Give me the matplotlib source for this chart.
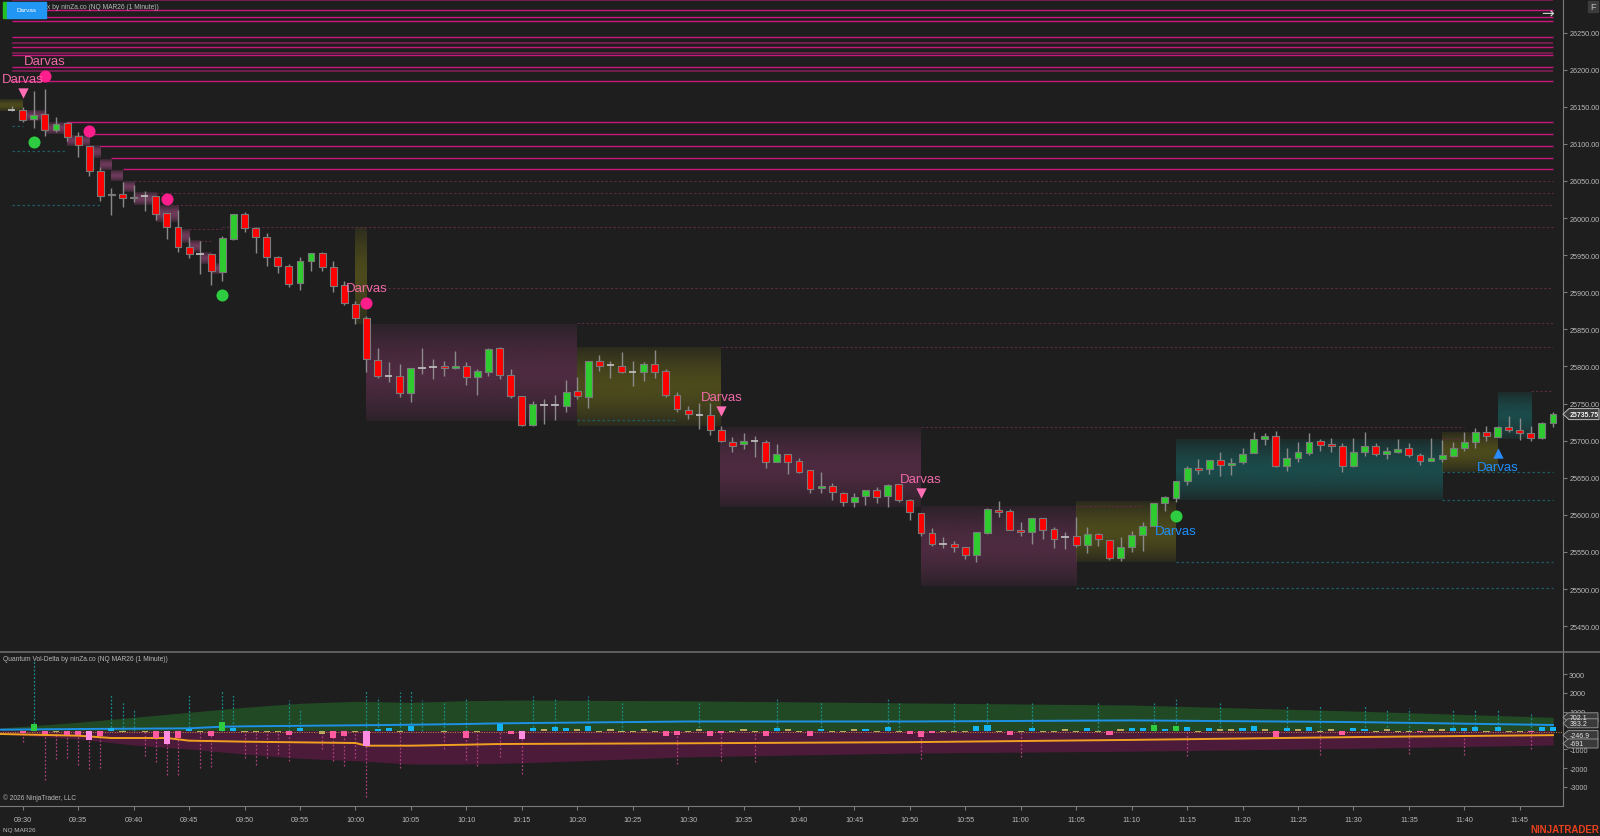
import numpy as np
import matplotlib
matplotlib.use("Agg")
import matplotlib.pyplot as plt
from matplotlib.colors import to_rgb
from matplotlib.patches import Rectangle, Polygon
from matplotlib.ticker import FuncFormatter

plt.rcParams["font.family"] = ["Liberation Sans", "DejaVu Sans"]
plt.rcParams["axes.unicode_minus"] = False

BG = "#1e1e1e"
GRID = "#7a7a7a"
TXT = "#b9b9b9"
WICK = "#8a8a8a"
UP = "#2ecc2e"
DN = "#ff0000"
PINK_TXT = "#f06aa8"
BLUE_TXT = "#1e90ff"

# ---- price bars, minute index 0 = 09:30 ----
bar_minute = list(range(-1, 139))
opens = [26146, 26145.5, 26133, 26140, 26119, 26127.5, 26110, 26097.5, 26063, 26031.5,
         26032.75, 26027, 26029.25, 26029.25, 26006.75, 25988.25, 25960.5, 25952, 25952, 25926.75,
         25972, 26005.5, 25986.5, 25974.75, 25947, 25935.75, 25912, 25941.75, 25952.5, 25933.5,
         25909.75, 25884, 25864.75, 25808.5, 25787.5, 25787.5, 25764.25, 25797.75, 25798.75, 25800,
         25797.5, 25801, 25785.25, 25793, 25824.5, 25788.75, 25759.75, 25721, 25748.5, 25748,
         25747, 25767.25, 25758.5, 25807.75, 25802, 25801, 25792, 25792, 25802.75, 25794.25,
         25762, 25741.25, 25735, 25735, 25714.25, 25698.5, 25695.5, 25699, 25697.75, 25670.75,
         25682, 25672, 25660.5, 25635.75, 25639.25, 25629.5, 25616.75, 25625, 25633.5, 25625,
         25641.5, 25620.25, 25602, 25575, 25560.25, 25560.25, 25556.25, 25545.75, 25575.5, 25607,
         25604.75, 25580, 25577.25, 25596, 25581, 25569.75, 25571, 25559.25, 25574, 25566.5,
         25542.25, 25557, 25573.25, 25584.5, 25616, 25622.75, 25645.25, 25662.75, 25661.75, 25674,
         25667, 25670.75, 25683, 25702.25, 25706.5, 25666.25, 25676.25, 25683.25, 25699, 25695,
         25692.25, 25665.5, 25684.25, 25692.25, 25682, 25685, 25689.5, 25680.5, 25673, 25675.25,
         25679.75, 25689.5, 25697.75, 25711.25, 25704.5, 25718, 25714.75, 25709.75, 25703, 25723.25]
highs = [26151, 26149.5, 26171.5, 26174, 26135.75, 26129, 26115.5, 26097.5, 26068.25, 26040.5,
         26049, 26044.5, 26036.5, 26029.25, 26006.75, 26011.25, 25974, 25968.5, 25952, 25976.25,
         26005.5, 26008.5, 25987.5, 25979.5, 25949.25, 25938, 25947, 25952.5, 25953.75, 25942.5,
         25915.5, 25888.25, 25868.25, 25824.5, 25805.5, 25803.25, 25797.5, 25824.75, 25810, 25807.75,
         25821.25, 25805.5, 25796.5, 25824.75, 25825.75, 25796.5, 25759.75, 25753.5, 25756, 25761.5,
         25781.75, 25786, 25807.25, 25815.5, 25807.25, 25819, 25807.25, 25806.25, 25822.5, 25796.5,
         25765, 25747, 25750.75, 25751.25, 25720, 25704.5, 25709.75, 25706.5, 25700.75, 25695.5,
         25682, 25676.25, 25660.5, 25657.25, 25643, 25630.25, 25629.5, 25633.5, 25637, 25641.5,
         25641.5, 25621, 25602, 25581.75, 25569.75, 25565, 25556.25, 25576.5, 25609.25, 25619,
         25607.75, 25590.75, 25595.25, 25596, 25583.25, 25576.5, 25596.5, 25583.25, 25575.5, 25566.5,
         25570.5, 25578.5, 25590, 25616, 25625.75, 25646, 25666.25, 25675.25, 25674, 25684.25,
         25676.25, 25689.5, 25712, 25710.25, 25713.25, 25689.5, 25697.75, 25710.25, 25702.25, 25703,
         25696.75, 25703, 25712, 25696.75, 25691, 25702.25, 25696.75, 25683.25, 25703, 25701.25,
         25697.75, 25712, 25716.5, 25719.25, 25720, 25732.75, 25730, 25720, 25725.5, 25739]
lows = [26144, 26130, 26121.25, 26110, 26116.25, 26104.25, 26082.5, 26057, 26022.5, 26004,
        26015.25, 26022, 26009.75, 25997.75, 25971.75, 25953.75, 25946.5, 25924.5, 25910, 25915,
        25970, 25980.75, 25952.5, 25935.75, 25926, 25906.5, 25903.5, 25929, 25929, 25900,
        25882.75, 25857.5, 25793, 25784, 25778.5, 25759.25, 25752.5, 25789.75, 25783, 25787.5,
        25796.5, 25775, 25761.5, 25787.5, 25783, 25757, 25719.25, 25720, 25722.75, 25728.25,
        25739, 25756, 25744.25, 25794.25, 25784, 25791, 25773.25, 25780.75, 25784.75, 25758.75,
        25738, 25728.5, 25715.75, 25707.5, 25697.75, 25684.25, 25688.75, 25677.5, 25662.75, 25670.75,
        25655, 25656.25, 25629.5, 25629.5, 25620.5, 25611.5, 25610, 25613.25, 25616, 25610,
        25616.75, 25593.5, 25571.75, 25558.25, 25555, 25550.25, 25540.5, 25536, 25574.25, 25596.5,
        25580, 25571.75, 25560.75, 25567.5, 25555, 25554, 25556.25, 25548.5, 25557.5, 25539.5,
        25538.25, 25549.5, 25551.5, 25584.5, 25605.5, 25616.75, 25640.5, 25655, 25655, 25652.75,
        25654, 25668.5, 25683, 25694, 25664, 25659.5, 25671.5, 25680.5, 25686.5, 25684.25,
        25657.25, 25664, 25678.75, 25678.75, 25675.25, 25683.25, 25677.5, 25667, 25673, 25671.5,
        25677.5, 25686.5, 25689.5, 25700, 25704.5, 25711.25, 25701.25, 25700, 25702.25, 25718]
closes = [26146, 26132, 26139.25, 26119, 26127, 26109.5, 26098, 26063, 26030, 26032,
          26026.5, 26028.25, 26029.25, 26005, 25987.5, 25960.5, 25951, 25952, 25928.25, 25972.75,
          26005.5, 25986, 25974.75, 25947, 25935.75, 25910.75, 25941.75, 25952.5, 25933.5, 25908.75,
          25885.5, 25864.75, 25810, 25787.5, 25787.5, 25764.5, 25797.5, 25797.75, 25798.75, 25797.5,
          25801, 25785.25, 25794.25, 25823, 25788.5, 25759.75, 25721, 25749, 25748.5, 25748,
          25766, 25759.75, 25807.25, 25801, 25802, 25792, 25792, 25802.75, 25793, 25762,
          25742.5, 25735.25, 25735, 25714.25, 25700, 25693, 25699.5, 25699, 25670.75, 25682,
          25670.75, 25657.25, 25634.75, 25639.25, 25630.25, 25616.75, 25623.5, 25633.5, 25623.5, 25640.5,
          25620, 25603.5, 25575, 25560.75, 25560.25, 25556.25, 25545.75, 25576.5, 25607.75, 25604.25,
          25580, 25576.5, 25595.25, 25580, 25567.5, 25569.75, 25559.25, 25574, 25567.5, 25542.25,
          25557, 25572.75, 25584.5, 25616, 25623.5, 25645.25, 25663.5, 25660.5, 25674, 25667,
          25669.75, 25682, 25702.25, 25705.75, 25665.5, 25677, 25684.25, 25698.5, 25694.5, 25693,
          25665.5, 25684.25, 25692.25, 25682, 25686.5, 25688.75, 25680.5, 25673, 25676.5, 25680.5,
          25689.5, 25697.75, 25712, 25705.75, 25718.75, 25714.75, 25709.75, 25703, 25723.25, 25735.75]
last_price = 25735.75

# ---- Darvas boxes (left edge, right edge in minutes; top, bottom price) ----
box_left = [-2.1, 30, 31, 50, 62.9, 81, 95, 104, 128, 133]
box_right = [0, 31, 50, 62.9, 81, 95, 104, 128, 133, 136]
box_top = [26160, 25987, 25857, 25826, 25718.75, 25611, 25618, 25701, 25711, 25765]
box_bottom = [26144.5, 25857, 25727, 25720, 25611, 25504.5, 25536, 25619.5, 25657.5, 25702]
box_kind = ["olive", "olive", "plum", "olive", "plum", "plum", "olive", "teal", "olive", "teal"]

# small trailing boxes while price was falling
step_left = [0, 2, 4, 6, 7, 8, 9, 10, 12, 14, 15, 16, 17]
step_right = [2, 4, 6, 7, 8, 9, 10, 12, 14, 15, 16, 17, 18]
step_top = [26144.5, 26129, 26111, 26097.5, 26079.5, 26063.75, 26049, 26034.5, 26017.5,
            25985, 25969.5, 25954, 25938]
step_bottom = [26131, 26113, 26097.5, 26080.5, 26065, 26049.5, 26034.5, 26017.5, 25995,
               25967, 25954, 25938, 25924.5]

# ---- horizontal levels ----
res_price = [26293.8, 26280, 26270.5, 26265, 26243.3, 26235.5, 26230, 26222, 26219.7,
             26203, 26198.5, 26184.2, 26129, 26112.8, 26097, 26080.5, 26065.6]
res_start = [-1, -1, -1, -1, -1, -1, -1, -1, -1, -1, -1, -1, 4, 6, 7, 8, 9]
res_dark = [0, 5, 7, 10]
old_price = [26049.5, 26033.3, 26017.1, 25988.3, 25985.2, 25968.6, 25905.2, 25858.1,
             25826.6, 25766.4, 25718.5, 25611.4, 25702]
old_start = [10, 12, 13, 18, 15, 16, 31, 50, 63, 136, 81, 95, 128]
old_end = [138, 138, 138, 138, 18, 17, 138, 138, 138, 138, 130, 101, 129.7]
sup_price = [26124.4, 26090.7, 26017.5, 25658, 25620, 25536.4, 25501.8, 25728]
sup_start = [-1, -1, -1, 128, 128, 104, 95, 50]
sup_end = [0, 4, 7, 138, 138, 138, 138, 59]

# ---- signals ----
sig_dn_min = [0, 63, 81]
sig_dn_price = [26168, 25739.5, 25629]
lbl_pink_min = [0, 2, 31, 63, 81]
lbl_pink_price = [26188, 26211, 25906, 25758.5, 25648]
dot_pink_min = [2, 6, 13, 31]
dot_pink_price = [26191, 26117.7, 26025.2, 25885.5]
dot_green_min = [1, 18, 104]
dot_green_price = [26102.8, 25896.2, 25598]
sig_up_min = [133]
sig_up_price = [25684]
lbl_blue_min = [104, 133]
lbl_blue_price = [25578, 25665]

# ---- Vol-Delta panel ----
env_min = [-2, 5, 10, 15, 20, 25, 30, 35, 40, 45, 60, 80, 100, 120, 138]
env_high = [133, 436, 700, 968, 1234, 1447, 1553, 1500, 1590, 1620, 1580, 1467, 1355, 1037, 702]
env_low = [-186, -452, -771, -984, -1250, -1480, -1605, -1782, -1782, -1720, -1400, -1200,
           -1100, -950, -771]
buy_min = [-2, 5, 15, 18, 20, 33, 40, 43, 60, 80, 100, 120, 138]
buy_avg = [44, 80, 115, 204, 222, 293, 346, 381, 480, 480, 537, 450, 293]
sell_min = [-2, 5, 8, 13, 15, 20, 30, 31, 35, 40, 43, 60, 80, 100, 120, 138]
sell_avg = [-186, -275, -399, -399, -541, -594, -665, -807, -807, -754, -718, -680, -620,
            -500, -350, -247]
spike_up_min = [1, 8, 9, 10, 15, 18, 19, 24, 25, 31, 32, 34, 35, 36, 38, 40, 46, 48, 51, 54,
                61, 68, 72, 78, 79, 84, 87, 91, 97, 102, 104, 108, 114, 117, 121, 123, 125,
                129, 131, 133, 136]
spike_up_val = [3714, 1888, 1590, 1090, 1940, 2154, 1940, 1620, 1090, 2154, 1760, 2050, 2154,
                1620, 1500, 1680, 1835, 1675, 1835, 1570, 1570, 1730, 1570, 1730, 1460, 1460,
                1570, 1460, 1460, 1460, 1680, 1460, 1350, 1300, 1350, 1080, 1190, 1135, 1080,
                1135, 925]
spike_dn_min = [0, 2, 3, 4, 5, 6, 7, 11, 12, 13, 14, 16, 17, 20, 21, 22, 23, 24, 27, 28, 29,
                30, 31, 34, 38, 40, 41, 43, 45, 59, 63, 66, 81, 90, 105, 117, 125, 130, 136]
spike_dn_val = [-630, -2615, -1520, -1480, -1835, -2050, -2000, -1340, -1655, -2350, -2350,
                -2000, -1920, -1465, -1835, -1465, -1250, -1600, -985, -1640, -1900, -1465,
                -3520, -2015, -985, -1550, -1900, -1430, -2340, -1780, -1620, -1675, -1515,
                -1400, -1355, -1300, -1250, -1300, -1000]
delta_min = [0, 1, 2, 3, 4, 5, 6, 7, 8, 9, 11, 12, 13, 14, 15, 16, 17, 18, 19, 20, 21, 22, 23,
             24, 25, 27, 28, 29, 30, 31, 32, 33, 34, 35, 38, 40, 41, 43, 44,
             45, 46, 47, 48, 49, 50, 51, 52, 53, 54, 55, 56, 57, 58, 59, 60, 61, 62, 63, 64,
             65, 66, 67, 68, 69, 70, 71, 72, 73, 74, 75, 76, 77, 78, 79, 80, 81, 82, 83, 84,
             85, 86, 87, 88, 89, 90, 91, 92, 93, 94, 95, 96, 97, 98, 99, 100, 101, 102, 103,
             104, 105, 106, 107, 108, 109, 110, 111, 112, 113, 114, 115, 116, 117, 118, 119,
             120, 121, 122, 123, 124, 125, 126, 127, 128, 129, 130, 131, 132, 133, 134, 135,
             136, 137, 138]
delta_val = [-150, 355, -200, -60, -250, -250, -500, -300, 130, -60, -60, -400, -700, -380,
             60, -80, -300, 460, 150, -60, -60, -60, -60, -220, 150, -200, -400, -300, -60,
             -800, 90, 130, -60, 230, -60, -380, -60, 360, -200,
             -450, 150, 60, 200, 120, 60, 250, -60, 60, -60, -60, 60, -60, -300, -250, -60,
             60, -300, -150, -60, 60, -60, -300, 150, 60, -60, -300, 100, -60, -60, 60, 100,
             -60, 200, -60, -200, -350, -150, -60, -60, -60, 250, 300, -60, -250, -60, 150,
             -60, -60, 60, -100, 150, -60, -250, 60, 150, 150, 300, 100, 250, 200, -60, 120,
             60, 60, 150, 250, 60, -350, 120, 60, 200, -60, 60, -250, 150, 100, -60, 60, -60,
             -60, -100, 60, 60, 120, 120, 200, -60, 200, -60, -60, -100, 200, 200]
delta_kind = ["s", "b", "s", "n", "s", "s", "S", "s", "c", "n", "n", "s", "S", "s", "c", "n",
              "s", "b", "c", "n", "n", "n", "n", "s", "c", "n", "s", "s", "n", "S", "c", "c",
              "n", "c", "n", "s", "n", "c", "s",
              "S", "c", "n", "c", "c", "n", "c", "n", "n", "n", "n", "n", "n", "s", "s", "n",
              "n", "s", "s", "n", "n", "n", "s", "c", "n", "n", "s", "c", "n", "n", "n", "c",
              "n", "c", "n", "s", "s", "s", "n", "n", "n", "c", "c", "n", "s", "n", "c", "n",
              "n", "n", "n", "c", "n", "s", "n", "c", "c", "b", "c", "b", "c", "n", "c", "n",
              "n", "c", "c", "n", "s", "c", "n", "c", "n", "n", "s", "c", "c", "n", "n", "n",
              "n", "s", "n", "n", "c", "c", "c", "n", "c", "n", "n", "s", "c", "c"]
panel_tags = [702.1, 383.2, -246.9, -691]

time_ticks = list(range(0, 136, 5))


def hhmm(m):
    t = 9 * 60 + 30 + m
    return f"{t // 60:02d}:{t % 60:02d}"


W, H = 1600, 837
fig = plt.figure(figsize=(16, 8.37), dpi=100, facecolor=BG)


def fx(px):
    return px / W


def fy(py):
    return 1 - py / H


ax = fig.add_axes([0, fy(652), fx(1563), fy(0) - fy(652)], facecolor=BG)
axv = fig.add_axes([0, fy(807), fx(1563), fy(653) - fy(807)], facecolor=BG, sharex=ax)

# shaded boxes with a soft vertical gradient
SHADES = {"olive": ("#5c5a1c", 0.75), "plum": ("#5a2e4a", 0.8), "teal": ("#1b5656", 0.8),
          "step": ("#8a4470", 0.75)}


def shade(a, x0, x1, lo, hi, kind):
    col, amax = SHADES[kind]
    t = np.linspace(-1, 1, 64)
    rgba = np.zeros((64, 1, 4))
    rgba[..., :3] = to_rgb(col)
    rgba[:, 0, 3] = amax * (0.3 + 0.7 * (1 - np.abs(t) ** 1.6))
    a.imshow(rgba, extent=(x0, x1, lo, hi), aspect="auto", origin="lower",
             interpolation="bilinear", zorder=1)


for x0, x1, hi, lo, k in zip(box_left, box_right, box_top, box_bottom, box_kind):
    shade(ax, x0, x1, lo, hi, k)
for x0, x1, hi, lo in zip(step_left, step_right, step_top, step_bottom):
    shade(ax, x0, x1, lo, hi, "step")

# levels
for i, (p, s) in enumerate(zip(res_price, res_start)):
    col = "#7c1f52" if i in res_dark else "#c8187e"
    ax.hlines(p, s, 138, color=col, lw=1.3 if i in res_dark else 1.0, zorder=2)
for p, s, e in zip(old_price, old_start, old_end):
    ax.hlines(p, s, e, color="#5e2a45", lw=0.8, linestyles=(0, (2, 2)), zorder=2)
for p, s, e in zip(sup_price, sup_start, sup_end):
    ax.hlines(p, s, e, color="#1f5d66", lw=0.9, linestyles=(0, (2, 2)), zorder=2)

# candles
x = np.array(bar_minute, dtype=float)
o, h, l, c = (np.array(v) for v in (opens, highs, lows, closes))
ax.vlines(x, l, h, color=WICK, lw=1.0, zorder=3)
lo_b = np.minimum(o, c)
hb = np.maximum(np.abs(c - o), 1.3)
up, dn, flat = c > o, c < o, c == o
ax.bar(x[up], hb[up], bottom=lo_b[up], width=0.62, color=UP, edgecolor="#7a7a7a", lw=0.8, zorder=4)
ax.bar(x[dn], hb[dn], bottom=lo_b[dn], width=0.62, color=DN, edgecolor="#7a7a7a", lw=0.8, zorder=4)
ax.hlines(c[flat], x[flat] - 0.33, x[flat] + 0.33, color="#c4c4c4", lw=1.2, zorder=4)

# signals
ax.scatter(sig_dn_min, sig_dn_price, marker="v", s=55, color="#ff6eb4", lw=0, zorder=6)
ax.scatter(sig_up_min, sig_up_price, marker="^", s=55, color="#2a8cff", lw=0, zorder=6)
ax.scatter(dot_pink_min, dot_pink_price, s=75, color="#ff1e8c", lw=0, zorder=6)
ax.scatter(dot_green_min, dot_green_price, s=75, color="#2ecc40", lw=0, zorder=6)
for m, p in zip(lbl_pink_min, lbl_pink_price):
    ax.text(m, p, "Darvas", color=PINK_TXT, fontsize=9.5, ha="center", va="center", zorder=7)
for m, p in zip(lbl_blue_min, lbl_blue_price):
    ax.text(m, p, "Darvas", color=BLUE_TXT, fontsize=9.5, ha="center", va="center", zorder=7)

ax.set_xlim(-2.05, 138.9)
ax.set_ylim(25416.5, 26295.15)
ax.yaxis.tick_right()
ax.set_yticks(np.arange(25450, 26251, 50))
ax.yaxis.set_major_formatter(FuncFormatter(lambda v, _: f"{v:.2f}"))
ax.tick_params(axis="y", colors=GRID, labelcolor=TXT, labelsize=5.2, length=3, pad=1.5)
ax.tick_params(axis="x", bottom=False, labelbottom=False)
for side in ("left", "top", "bottom"):
    ax.spines[side].set_visible(False)
ax.spines["right"].set_color(GRID)

# ---- Vol-Delta ----
axv.fill_between(env_min, 0, env_high, color="#214a24", lw=0, zorder=1)
axv.fill_between(env_min, env_low, 0, color="#4d1b3a", lw=0, zorder=1)
axv.vlines(spike_up_min, 0, spike_up_val, color="#1a8c8c", lw=0.9, linestyles=(0, (1.5, 1.5)), zorder=2)
axv.vlines(spike_dn_min, spike_dn_val, 0, color="#a8407a", lw=0.9, linestyles=(0, (1.5, 1.5)), zorder=2)
axv.axhline(-90, color="#c08a3a", lw=0.7, ls=(0, (1, 1.5)), zorder=2)
axv.plot(buy_min, buy_avg, color="#1e90e6", lw=1.4, zorder=3)
axv.plot(sell_min, sell_avg, color="#f0a020", lw=1.4, zorder=3)
kind_col = {"s": "#ff5aa0", "S": "#ff8ce0", "b": "#2ecc40", "c": "#13b4f0", "n": "#b8aa60"}
for m, v, k in zip(delta_min, delta_val, delta_kind):
    axv.bar(m, v if abs(v) > 60 else np.sign(v) * 80, width=0.55, color=kind_col[k], lw=0, zorder=4)

axv.set_ylim(-4016, 4176)
axv.yaxis.tick_right()
axv.set_yticks([-3000, -2000, -1000, 1000, 2000, 3000])
axv.tick_params(axis="y", colors=GRID, labelcolor=TXT, labelsize=5.2, length=3, pad=1.5)
axv.set_xticks(time_ticks)
axv.set_xticklabels([hhmm(m) for m in time_ticks])
axv.tick_params(axis="x", colors=GRID, labelcolor=TXT, labelsize=5.2, length=3, pad=4)
for side in ("left", "top"):
    axv.spines[side].set_visible(False)
axv.spines["right"].set_color(GRID)
axv.spines["bottom"].set_color(GRID)

# value tags on the right of the lower panel
for v in panel_tags:
    yv = axv.transData.transform((0, v))[1]
    yp = H - yv
    poly = Polygon([[fx(1563), fy(yp)], [fx(1568), fy(yp - 4.5)], [fx(1598), fy(yp - 4.5)],
                    [fx(1598), fy(yp + 4.5)], [fx(1568), fy(yp + 4.5)]],
                   closed=True, transform=fig.transFigure, facecolor="#3a3a3a",
                   edgecolor="#a0a0a0", lw=0.6, zorder=10)
    fig.patches.append(poly)
    fig.text(fx(1570), fy(yp), f"{v:g}", color="#e6e6e6", fontsize=5, va="center", zorder=11)

# current price tag
yv = ax.transData.transform((0, last_price))[1]
yp = H - yv
fig.patches.append(Polygon([[fx(1563), fy(yp)], [fx(1569), fy(yp - 5.5)], [fx(1599), fy(yp - 5.5)],
                            [fx(1599), fy(yp + 5.5)], [fx(1569), fy(yp + 5.5)]],
                           closed=True, transform=fig.transFigure, facecolor="#3a3a3a",
                           edgecolor="#bdbdbd", lw=0.7, zorder=10))
fig.text(fx(1570), fy(yp), f"{last_price:.2f}", color="#f0f0f0", fontsize=5,
         fontweight="bold", va="center", zorder=11)

# separators and chrome
fig.add_artist(plt.Line2D([0, 1], [fy(652.5), fy(652.5)], transform=fig.transFigure,
                          color="#6a6a6a", lw=1.2))
fig.patches.append(Rectangle((fx(2.7), fy(18.7)), fx(4.6), fy(3.3) - fy(18.7),
                             transform=fig.transFigure, color="#22c022"))
fig.patches.append(Rectangle((fx(7.3), fy(18.7)), fx(38.4), fy(3.3) - fy(18.7),
                             transform=fig.transFigure, color="#2196f3", zorder=5))
fig.text(fx(159), fy(7.5), "Darvas Box by ninZa.co (NQ MAR26 (1 Minute))", color=TXT,
         fontsize=4.8, ha="right", va="center", zorder=1)
fig.text(fx(26.5), fy(11), "Darvas", color="white", fontsize=4.6, ha="center", va="center", zorder=6)
fig.patches.append(Rectangle((fx(1588), fy(12.7)), fx(10), fy(1.7) - fy(12.7),
                             transform=fig.transFigure, color="#3c3c3c"))
fig.text(fx(1593), fy(7.2), "F", color="#bdbdbd", fontsize=6.5, ha="center", va="center")
fig.text(fx(1547), fy(13.5), "\u2192", color="#cfcfcf", fontsize=11, ha="center", va="center",
         family="DejaVu Sans")
fig.text(fx(3), fy(660), "Quantum Vol-Delta by ninZa.co (NQ MAR26 (1 Minute))", color=TXT,
         fontsize=4.8, va="center")
fig.text(fx(3), fy(798.5), "\u00a9 2026 NinjaTrader, LLC", color=TXT, fontsize=4.8, va="center")
fig.text(fx(3), fy(831), "NQ MAR26", color=TXT, fontsize=4.6, va="center")
fig.text(fx(1599), fy(830), "NINJATRADER", color="#e8401c", fontsize=7, fontweight="bold",
         ha="right", va="center")

fig.savefig("out.png", dpi=100, facecolor=BG)
